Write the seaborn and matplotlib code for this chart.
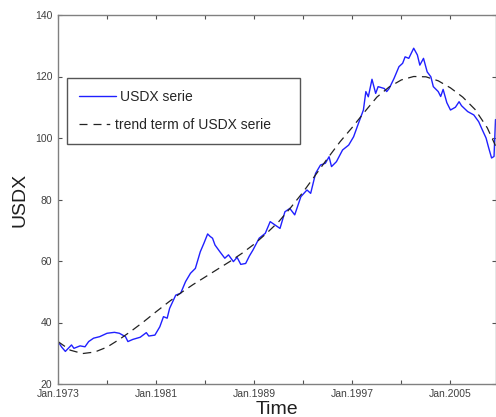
import matplotlib
matplotlib.use("Agg")
import matplotlib.pyplot as plt
import pandas as pd
import seaborn as sns
from matplotlib.lines import Line2D

# Monthly US dollar index, sampled (decimal year, index level)
usdx_time = [
    1973.0, 1973.3, 1973.6, 1974.1, 1974.3, 1974.8, 1975.2, 1975.5, 1975.9, 1976.4,
    1977.0, 1977.6, 1978.0, 1978.5, 1978.7, 1979.1, 1979.7, 1980.2, 1980.4, 1980.9,
    1981.3, 1981.6, 1981.9, 1982.1, 1982.6, 1983.0, 1983.4, 1983.8, 1984.2, 1984.6,
    1984.9, 1985.2, 1985.4, 1985.6, 1985.8, 1986.2, 1986.6, 1986.9, 1987.3, 1987.6,
    1987.9, 1988.3, 1988.6, 1988.9, 1989.4, 1989.9, 1990.3, 1990.7, 1991.1, 1991.5,
    1991.9, 1992.3, 1992.8, 1993.3, 1993.6, 1994.0, 1994.4, 1994.8, 1995.1, 1995.3,
    1995.7, 1996.2, 1996.7, 1997.1, 1997.5, 1997.9, 1998.1, 1998.3, 1998.6, 1998.9,
    1999.1, 1999.6, 1999.8, 2000.0, 2000.4, 2000.8, 2001.1, 2001.3, 2001.6, 2002.0,
    2002.3, 2002.5, 2002.8, 2003.1, 2003.4, 2003.6, 2004.0, 2004.2, 2004.4, 2004.7,
    2005.0, 2005.4, 2005.7, 2005.9, 2006.4, 2006.9, 2007.3, 2007.6, 2007.9, 2008.1,
    2008.35, 2008.55, 2008.67,
]
usdx_value = [
    33.8, 32.0, 30.6, 32.7, 31.6, 32.4, 32.1, 33.8, 34.9, 35.4,
    36.5, 36.8, 36.5, 35.4, 33.8, 34.5, 35.2, 36.7, 35.6, 35.9,
    38.6, 41.9, 41.4, 44.6, 48.9, 49.5, 53.3, 56.0, 57.6, 63.0,
    65.8, 68.8, 68.0, 67.4, 65.2, 63.0, 60.9, 62.0, 59.8, 61.2,
    58.9, 59.2, 61.6, 63.6, 67.4, 69.0, 72.8, 71.7, 70.6, 76.0,
    77.1, 75.0, 80.9, 83.1, 82.0, 88.5, 91.2, 91.8, 93.9, 90.7,
    92.3, 96.1, 97.7, 100.4, 104.8, 109.1, 115.1, 113.4, 119.1, 114.5,
    116.7, 116.1, 115.1, 116.1, 119.4, 123.2, 124.3, 126.4, 125.9, 129.2,
    127.0, 123.7, 125.9, 121.5, 119.9, 116.7, 115.1, 113.5, 115.8, 111.5,
    109.1, 110.0, 111.8, 110.5, 108.6, 107.5, 105.3, 102.6, 100.0, 97.0,
    93.5, 94.0, 106.0,
]

# Smooth trend component of the index
trend_time = [
    1973, 1974, 1975, 1976, 1977, 1978, 1979, 1980, 1981, 1982,
    1983, 1984, 1985, 1986, 1987, 1988, 1989, 1990, 1991, 1992,
    1993, 1994, 1995, 1996, 1997, 1998, 1999, 2000, 2001, 2002,
    2003, 2004, 2005, 2006, 2007, 2008, 2008.67,
]
trend_value = [
    33.8, 31.0, 29.9, 30.4, 32.0, 34.5, 37.3, 40.3, 43.5, 46.6,
    49.6, 52.3, 54.8, 57.3, 59.8, 62.5, 65.5, 69.0, 72.8, 77.5,
    82.5, 88.0, 93.5, 98.8, 103.5, 108.5, 113.3, 116.6, 118.9, 120.0,
    119.9, 118.6, 116.3, 113.3, 109.3, 103.3, 97.5,
]

x_ticks = [1973, 1977, 1981, 1985, 1989, 1993, 1997, 2001, 2005]
x_tick_labels = ["Jan.1973", "", "Jan.1981", "", "Jan.1989", "", "Jan.1997", "", "Jan.2005"]
y_ticks = [20, 40, 60, 80, 100, 120, 140]
legend_labels = ["USDX serie", "trend term of USDX serie"]

sns.set_style("ticks")
plt.rcParams["font.family"] = ["Liberation Sans", "DejaVu Sans"]

blue = "#2020ff"
dark = "#222222"
axis_grey = "#808080"
label_grey = "#404040"

fig = plt.figure(figsize=(4.96, 4.17), dpi=100)
ax = fig.add_axes([58 / 496, 33 / 417, 437.5 / 496, 369 / 417])

series = pd.DataFrame({"time": usdx_time, "value": usdx_value})
trend = pd.DataFrame({"time": trend_time, "value": trend_value})

sns.lineplot(data=series, x="time", y="value", ax=ax, color=blue,
             linewidth=1.0, estimator=None, sort=False)
sns.lineplot(data=trend, x="time", y="value", ax=ax, color=dark,
             linewidth=0.9, estimator=None, sort=False,
             linestyle=(0, (6.8, 4.4)))

ax.set_xlim(1973, 2008.67)
ax.set_ylim(20, 140)
ax.set_xticks(x_ticks)
ax.set_xticklabels(x_tick_labels)
ax.set_yticks(y_ticks)

for side in ["left", "right", "top", "bottom"]:
    ax.spines[side].set_visible(True)
    ax.spines[side].set_color(axis_grey)
    ax.spines[side].set_linewidth(1.0)

ax.tick_params(axis="both", which="major", direction="in", length=3,
               width=0.8, color="#505050", labelcolor=label_grey,
               labelsize=7.5, top=True, right=True)
ax.tick_params(axis="x", pad=3.5)
ax.tick_params(axis="y", pad=4)

ax.set_xlabel("Time", fontsize=14, color="#202020", labelpad=1.5)
ax.set_ylabel("USDX", fontsize=14, color="#202020")
ax.yaxis.set_label_coords(-0.068, 0.5)

# Legend with explicit handles
h_series = Line2D([], [], color=blue, linewidth=1.0)
h_trend = Line2D([], [], color=dark, linewidth=0.9,
                 linestyle=(0, (6.4, 4.8, 6.4, 4.2, 2.8, 30)))
x0 = (67 - 58) / 437.5
top = (384 - 78) / 369
bottom = (384 - 144) / 369
width = (300 - 67) / 437.5
leg = ax.legend([h_series, h_trend], legend_labels, loc="upper left",
                bbox_to_anchor=(x0, bottom, width, top - bottom), mode="expand",
                borderaxespad=0, frameon=True, fancybox=False, fontsize=10,
                handlelength=2.7, handletextpad=0.29, borderpad=0.86,
                labelspacing=1.0)
frame = leg.get_frame()
frame.set_edgecolor("#555555")
frame.set_linewidth(1.0)
frame.set_alpha(1.0)
leg.get_texts()[1].set_x(-5)

fig.savefig("out.png", dpi=100)
